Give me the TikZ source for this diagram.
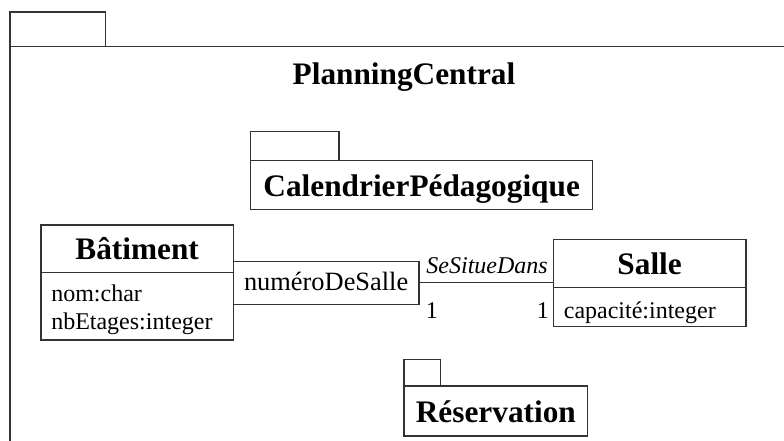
\documentclass[tikz,border=0pt]{standalone}
\usepackage{fontspec}
\setmainfont{Liberation Serif}

\begin{document}
\begin{tikzpicture}[x=1pt, y=-1pt, line width=1.1pt,
  boite/.style={draw=black!80, inner sep=0pt, outer sep=0pt, anchor=north west},
  titre/.style={boite, font=\fontsize{31.3}{36}\selectfont\bfseries, text height=22pt, text depth=0pt},
  attr/.style={inner sep=0pt, anchor=base west, font=\fontsize{24}{28}\selectfont}]
\useasboundingbox (0,0) rectangle (784,441);
% Paquetage principal
\node[boite, minimum width=95.5pt, minimum height=34.5pt] (ongletpc) at (10,12) {};
\draw[draw=black!80] (784,46.5) -| (10,441);
\node[inner sep=0pt, anchor=base, font=\fontsize{31.3}{36}\selectfont\bfseries] (planning) at (404,85) {PlanningCentral};
% Sous-paquetages
\node[boite, minimum width=88.3pt, minimum height=29pt] (ongletcal) at (250.7,131.7) {};
\node[titre, minimum width=342pt, minimum height=48.6pt] (calendrier) at (ongletcal.south west) {CalendrierPédagogique};
\node[boite, minimum width=36.7pt, minimum height=26.7pt] (ongletres) at (404,359.3) {};
\node[titre, minimum width=183.7pt, minimum height=50pt] (reservation) at (ongletres.south west) {Réservation};
% Classes
\node[titre, minimum width=192.3pt, minimum height=47.3pt] (batiment) at (41,225) {Bâtiment};
\node[boite, minimum width=192.3pt, minimum height=67.7pt] (batimentattr) at (batiment.south west) {};
\node[attr] (nom) at ([xshift=9.7pt, yshift=-29.4pt]batimentattr.north west) {nom:char};
\node[attr] (nbetages) at ([xshift=9.7pt, yshift=-57pt]batimentattr.north west) {nbEtages:integer};
\node[titre, minimum width=192.7pt, minimum height=48.4pt] (salle) at (553.3,239.3) {Salle};
\node[boite, minimum width=192.7pt, minimum height=39pt] (salleattr) at (salle.south west) {};
\node[attr] (capacite) at ([xshift=10pt, yshift=-30.6pt]salleattr.north west) {capacité:integer};
% Qualificatif et association
\node[boite, anchor=west, minimum width=185.7pt, minimum height=43.3pt, font=\fontsize{26.4}{30}\selectfont, text height=17pt, text depth=2.3pt] (qualif) at (batiment.east |- 0,282.7) {numéroDeSalle};
\draw[draw=black!80] (qualif.east) -- (qualif.east -| salle.west)
  node[attr, pos=1, anchor=base east, xshift=-5pt, yshift=9.7pt, font=\fontsize{24}{28}\selectfont\itshape] (role) {SeSitueDans}
  node[attr, pos=0, anchor=base west, xshift=6.3pt, yshift=-35.3pt] (multgauche) {1}
  node[attr, pos=1, anchor=base east, xshift=-3.8pt, yshift=-35.3pt] (multdroite) {1};
\end{tikzpicture}
\end{document}
